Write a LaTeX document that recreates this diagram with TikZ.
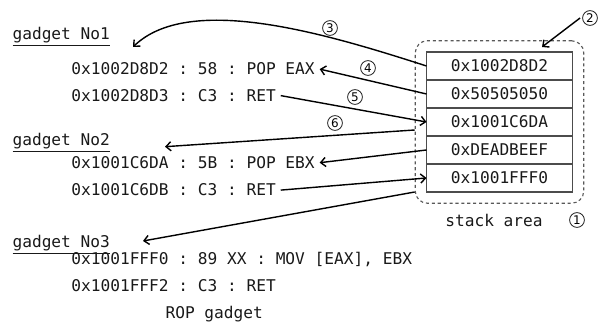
\documentclass[tikz,border=0pt]{standalone}
\usepackage{fontspec}
\setmonofont{DejaVu Sans Mono}
\newfontfamily\circfont{DejaVu Sans}
\usetikzlibrary{positioning,fit,arrows.meta}

\tikzset{
  code/.style={anchor=base west, font=\ttfamily\fontsize{11.5}{13}\selectfont, text=black!90},
  cell/.style={draw=black!70, thick, minimum width=3.65cm, minimum height=0.7cm,
    outer sep=0pt, inner sep=0pt, font=\ttfamily\fontsize{11.5}{13}\selectfont, text=black!90},
  stackarea/.style={draw=black!65, thick, dash pattern=on 2.2pt off 2pt, rounded corners=0.3cm},
  num/.style={circle, draw=black!85, line width=0.6pt, minimum size=0.37cm, inner sep=0pt,
    font=\circfont\fontsize{8.5}{8.5}\selectfont},
  link/.style={line width=1pt, -{Straight Barb[length=3.5pt,width=6.5pt]}}
}

\begin{document}
\begin{tikzpicture}
\useasboundingbox (0,0) rectangle (15.1,8.125);

% Gadget listings
\node[code] (g1) at (0.19,7.125) {\underline{gadget No1}};
\node[code] (l1) at (1.66,6.25) {0x1002D8D2 : 58 : POP EAX};
\node[code] (l2) at (1.66,5.5875) {0x1002D8D3 : C3 : RET};
\node[code] (g2) at (0.19,4.475) {\underline{gadget No2}};
\node[code] (l3) at (1.66,3.91) {0x1001C6DA : 5B : POP EBX};
\node[code] (l4) at (1.66,3.225) {0x1001C6DB : C3 : RET};
\node[code] (g3) at (0.19,1.94) {\underline{gadget No3}};
\node[code] (l5) at (1.66,1.5) {0x1001FFF0 : 89 XX : MOV [EAX], EBX};
\node[code] (l6) at (1.66,0.8375) {0x1001FFF2 : C3 : RET};
\node[code] (rop) at (4.015,0.15) {ROP gadget};

% Stack cells
\node[cell] (c1) at (12.4875,6.475) {0x1002D8D2};
\node[cell, below=0pt of c1] (c2) {0x50505050};
\node[cell, below=0pt of c2] (c3) {0x1001C6DA};
\node[cell, below=0pt of c3] (c4) {0xDEADBEEF};
\node[cell, below=0pt of c4] (c5) {0x1001FFF0};
\node[stackarea, fit=(c1)(c5), inner sep=0.28cm] (stk) {};
\node[code, anchor=center] (lbl) at (12.35,2.625) {stack area};

% Step numbers
\node[num] (n1) at (14.425,2.625) {1};
\node[num] (n2) at (14.75,7.675) {2};
\node[num] (n3) at (8.25,7.425) {3};
\node[num] (n4) at (9.2,6.425) {4};
\node[num] (n5) at (8.875,5.7) {5};
\node[num] (n6) at (8.375,5.05) {6};

% Free ends
\coordinate (in1) at (3.325,6.95);
\coordinate (in2) at (4.125,4.4575);
\coordinate (in3) at (3.575,2.1);
\coordinate (boxtop) at (13.55,6.95);
\coordinate (out2) at ([yshift=-0.2cm]stk.west);
\coordinate (out3) at (stk.west |- c5.south);

% Control flow
\draw[link] ([xshift=-1.5pt]n2.west) -- (boxtop);
\draw[link] (c1.west) .. controls (8.25,7.25) and (4.75,8.325) .. (in1);
\draw[link] (c2.west) -- (l1.east);
\draw[link] (l2.east) -- (c3.west);
\draw[link] (out2) -- (in2);
\draw[link] (c4.west) -- (l3.east);
\draw[link] (l4.east) -- (c5.west);
\draw[link] (out3) -- (in3);
\end{tikzpicture}
\end{document}
